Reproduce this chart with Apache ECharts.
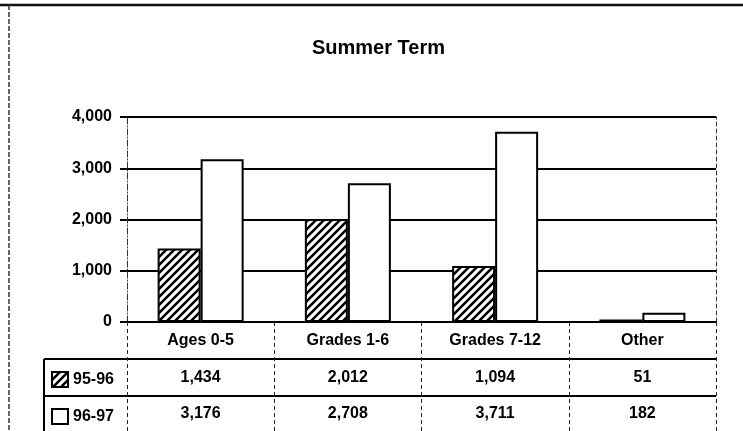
<!DOCTYPE html>
<html>
<head>
<meta charset="utf-8">
<script src="https://cdn.jsdelivr.net/npm/echarts@6/dist/echarts.min.js"></script>
<style>
  html, body { margin: 0; padding: 0; background: #fff; }
  #chart { width: 743px; height: 431px; }
</style>
</head>
<body>
<div id="chart"></div>
<script>
// data
var categories = ['Ages 0-5', 'Grades 1-6', 'Grades 7-12', 'Other'];
var seriesNames = ['95-96', '96-97'];
var values9596 = [1434, 2012, 1094, 51];
var values9697 = [3176, 2708, 3711, 182];
var yTicks = [0, 1000, 2000, 3000, 4000];

var FONT = '"Liberation Sans", Arial, sans-serif';

var fmt = function (v) {
  return String(v).replace(/\B(?=(\d{3})+(?!\d))/g, ',');
};

// diagonal hatch for the 95-96 bars
var makeHatch = function () {
  var c = document.createElement('canvas');
  c.width = 8;
  c.height = 8;
  var ctx = c.getContext('2d');
  ctx.fillStyle = '#fff';
  ctx.fillRect(0, 0, 8, 8);
  ctx.strokeStyle = '#000';
  ctx.lineWidth = 2.6;
  ctx.beginPath();
  ctx.moveTo(-1, 1); ctx.lineTo(1, -1);
  ctx.moveTo(0, 8); ctx.lineTo(8, 0);
  ctx.moveTo(7, 9); ctx.lineTo(9, 7);
  ctx.stroke();
  return c;
};

var myChart = echarts.init(document.getElementById('chart'));

var labelStyle = { color: '#000', fontFamily: FONT, fontSize: 16, fontWeight: 'bold' };

var legendBase = {
  left: 46,
  icon: 'rect',
  itemWidth: 16,
  itemHeight: 15,
  itemGap: 4,
  textStyle: labelStyle
};

var option = {
  backgroundColor: '#fff',
  animation: false,
  title: {
    text: 'Summer Term',
    left: 307,
    top: 33,
    textStyle: { color: '#000', fontFamily: FONT, fontSize: 20, fontWeight: 'bold' }
  },
  legend: [
    Object.assign({ top: 366, data: [seriesNames[0]] }, legendBase),
    Object.assign({ top: 403, data: [seriesNames[1]] }, legendBase)
  ],
  grid: {
    left: 127,
    right: 27,
    top: 117,
    bottom: 109
  },
  xAxis: [{
    type: 'category',
    data: categories,
    axisLine: { lineStyle: { color: '#000', width: 2 } },
    axisTick: { show: true, length: 109, lineStyle: { color: '#222', width: 1, type: [4, 3] } },
    axisLabel: Object.assign({ margin: 11 }, labelStyle),
    splitLine: { show: false }
  }, {
    type: 'category',
    data: values9596.map(fmt),
    position: 'bottom',
    offset: 37,
    axisLine: { show: false },
    axisTick: { show: false },
    axisLabel: Object.assign({ margin: 11 }, labelStyle)
  }, {
    type: 'category',
    data: values9697.map(fmt),
    position: 'bottom',
    offset: 74,
    axisLine: { show: false },
    axisTick: { show: false },
    axisLabel: Object.assign({ margin: 10 }, labelStyle)
  }],
  yAxis: [{
    type: 'value',
    min: yTicks[0],
    max: yTicks[yTicks.length - 1],
    interval: 1000,
    axisLine: { show: true, lineStyle: { color: '#333', width: 1, type: [6, 2, 1, 2] } },
    axisTick: { show: true, length: 7, lineStyle: { color: '#000', width: 2 } },
    axisLabel: Object.assign({ margin: 15, formatter: fmt }, labelStyle),
    splitLine: { lineStyle: { color: '#000', width: 2 } }
  }, {
    type: 'value',
    position: 'right',
    min: yTicks[0],
    max: yTicks[yTicks.length - 1],
    interval: 1000,
    axisLine: { show: true, lineStyle: { color: '#333', width: 1, type: [4, 3] } },
    axisTick: { show: false },
    axisLabel: { show: false },
    splitLine: { show: false }
  }],
  series: [{
    name: seriesNames[0],
    type: 'bar',
    xAxisIndex: 0,
    yAxisIndex: 0,
    barWidth: 43,
    barGap: '0%',
    data: values9596,
    itemStyle: {
      color: { image: makeHatch(), repeat: 'repeat' },
      borderColor: '#000',
      borderWidth: 2
    }
  }, {
    name: seriesNames[1],
    type: 'bar',
    xAxisIndex: 0,
    yAxisIndex: 0,
    barWidth: 43,
    barGap: '0%',
    data: values9697,
    itemStyle: {
      color: '#fff',
      borderColor: '#000',
      borderWidth: 2
    }
  }],
  graphic: [
    // page frame
    { type: 'line', shape: { x1: 0, y1: 5, x2: 743, y2: 5 }, style: { stroke: '#111', lineWidth: 2.5 } },
    { type: 'line', shape: { x1: 9, y1: 5, x2: 9, y2: 431 }, style: { stroke: '#333', lineWidth: 1.5, lineDash: [5, 2] } },
    // data table rules
    { type: 'line', shape: { x1: 44, y1: 359, x2: 716, y2: 359 }, style: { stroke: '#000', lineWidth: 2 } },
    { type: 'line', shape: { x1: 44, y1: 396, x2: 716, y2: 396 }, style: { stroke: '#000', lineWidth: 2 } },
    { type: 'line', shape: { x1: 44, y1: 359, x2: 44, y2: 431 }, style: { stroke: '#000', lineWidth: 2 } }
  ]
};

myChart.setOption(option);
</script>
</body>
</html>
